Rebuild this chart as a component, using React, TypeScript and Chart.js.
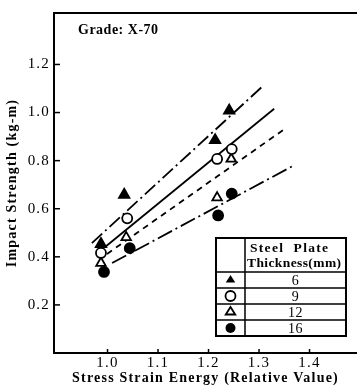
import React, { useEffect, useRef } from "react";
import { Chart, registerables } from "chart.js";

Chart.register(...registerables);

// ---- data ----
const thicknessLabels = ["6", "9", "12", "16"];

const t6X = [0.987, 1.033, 1.213, 1.241];
const t6Y = [0.453, 0.658, 0.885, 1.008];
const t9X = [0.987, 1.039, 1.217, 1.246];
const t9Y = [0.416, 0.56, 0.807, 0.848];
const t12X = [0.987, 1.037, 1.217, 1.245];
const t12Y = [0.374, 0.481, 0.646, 0.807];
const t16X = [0.993, 1.044, 1.219, 1.246];
const t16Y = [0.337, 0.436, 0.572, 0.663];

// fitted lines (start, end)
const fit6X = [0.969, 1.308];
const fit6Y = [0.457, 1.111];
const fit9X = [0.997, 1.33];
const fit9Y = [0.444, 1.016];
const fit12X = [0.999, 1.355];
const fit12Y = [0.412, 0.938];
const fit16X = [1.009, 1.367];
const fit16Y = [0.374, 0.778];

const xTicks = [1.0, 1.1, 1.2, 1.3, 1.4];
const yTicks = [0.2, 0.4, 0.6, 0.8, 1.0, 1.2];

const gradeText = "Grade: X-70";
const xTitle = "Stress Strain Energy (Relative Value)";
const yTitle = "Impact Strength (kg-m)";
const legendHeader = ["Steel  Plate", "Thickness(mm)"];

const FONT = "'Liberation Serif', 'DejaVu Serif', serif";

const zip = (xs: number[], ys: number[]) => xs.map((x, i) => ({ x, y: ys[i] }));

function drawMarker(ctx: CanvasRenderingContext2D, kind: number, cx: number, cy: number, r: number) {
  ctx.save();
  ctx.lineWidth = 1.8;
  ctx.strokeStyle = "#000";
  ctx.beginPath();
  if (kind === 0 || kind === 2) {
    const h = r * 1.5;
    ctx.moveTo(cx, cy - r);
    ctx.lineTo(cx + r * 0.95, cy + h - r);
    ctx.lineTo(cx - r * 0.95, cy + h - r);
    ctx.closePath();
  } else {
    ctx.arc(cx, cy, r, 0, Math.PI * 2);
  }
  if (kind === 0 || kind === 3) {
    ctx.fillStyle = "#000";
    ctx.fill();
  } else {
    ctx.fillStyle = "#fff";
    ctx.fill();
    ctx.stroke();
  }
  ctx.restore();
}

const spacingPlugin = {
  id: "spacing",
  beforeLayout(chart: any) {
    (chart.ctx as any).letterSpacing = "1.2px";
  },
  beforeDraw(chart: any) {
    (chart.ctx as any).letterSpacing = "1.2px";
  },
};

const decorPlugin = {
  id: "decor",
  afterDraw(chart: any) {
    const { ctx, chartArea } = chart;
    const xs = chart.scales.x;
    const ys = chart.scales.y;
    ctx.save();
    ctx.strokeStyle = "#000";
    // top frame line
    ctx.lineWidth = 2;
    ctx.beginPath();
    ctx.moveTo(chartArea.left - 1, chartArea.top);
    ctx.lineTo(chartArea.right, chartArea.top);
    ctx.stroke();
    // inward ticks
    ctx.lineWidth = 1.5;
    yTicks.forEach((v) => {
      const p = ys.getPixelForValue(v);
      ctx.beginPath();
      ctx.moveTo(chartArea.left, p);
      ctx.lineTo(chartArea.left + 6, p);
      ctx.stroke();
    });
    xTicks.forEach((v) => {
      const p = xs.getPixelForValue(v);
      ctx.beginPath();
      ctx.moveTo(p, chartArea.bottom);
      ctx.lineTo(p, chartArea.bottom - 4);
      ctx.stroke();
    });
    // grade label
    ctx.fillStyle = "#000";
    (ctx as any).letterSpacing = "0.5px";
    ctx.font = `bold 14px ${FONT}`;
    ctx.textAlign = "left";
    ctx.textBaseline = "middle";
    ctx.fillText(gradeText, chartArea.left + 24, chartArea.top + 17);

    // legend table
    const L = 216, R = 346, C = 245, T = 238, H = 272, rowH = 16;
    const B = H + rowH * thicknessLabels.length;
    ctx.lineWidth = 2;
    ctx.strokeRect(L, T, R - L, B - T);
    ctx.lineWidth = 1.5;
    ctx.beginPath();
    ctx.moveTo(C, T);
    ctx.lineTo(C, B);
    for (let i = 0; i < thicknessLabels.length; i++) {
      const y = H + rowH * i;
      ctx.moveTo(L, y);
      ctx.lineTo(R, y);
    }
    ctx.stroke();
    ctx.font = `bold 13.5px ${FONT}`;
    ctx.textAlign = "left";
    (ctx as any).letterSpacing = "1.3px";
    ctx.fillText(legendHeader[0], C + 5, T + 11);
    (ctx as any).letterSpacing = "0.4px";
    ctx.fillText(legendHeader[1], C + 2, T + 26);
    (ctx as any).letterSpacing = "0.5px";
    ctx.font = `14px ${FONT}`;
    ctx.textAlign = "center";
    thicknessLabels.forEach((lab, i) => {
      const cy = H + rowH * i + rowH / 2;
      ctx.fillStyle = "#000";
      ctx.fillText(lab, (C + R) / 2, cy + 1);
      drawMarker(ctx, i, (L + C) / 2, cy, 5);
    });
    ctx.restore();
  },
};

export default function App() {
  const ref = useRef<HTMLCanvasElement | null>(null);
  useEffect(() => {
    if (!ref.current) return;
    Chart.defaults.font.family = FONT;
    Chart.defaults.color = "#000";
    const ptBase = { showLine: false, borderColor: "#000", borderWidth: 1.8, pointRadius: 6, pointHoverRadius: 6 };
    const lineBase = { showLine: true, pointRadius: 0, borderColor: "#000", borderWidth: 1.8, fill: false };
    const chart = new Chart(ref.current, {
      type: "scatter",
      data: {
        datasets: [
          { ...ptBase, label: "6", data: zip(t6X, t6Y), pointStyle: "triangle", backgroundColor: "#000" },
          { ...ptBase, label: "9", data: zip(t9X, t9Y), pointStyle: "circle", pointRadius: 5, backgroundColor: "#fff" },
          { ...ptBase, label: "12", data: zip(t12X, t12Y), pointStyle: "triangle", pointRadius: 5.5, backgroundColor: "#fff" },
          { ...ptBase, label: "16", data: zip(t16X, t16Y), pointStyle: "circle", pointRadius: 5, backgroundColor: "#000" },
          { ...lineBase, label: "fit6", data: zip(fit6X, fit6Y), borderDash: [14, 4, 2, 4] },
          { ...lineBase, label: "fit9", data: zip(fit9X, fit9Y) },
          { ...lineBase, label: "fit12", data: zip(fit12X, fit12Y), borderDash: [6, 5] },
          { ...lineBase, label: "fit16", data: zip(fit16X, fit16Y), borderDash: [16, 4, 2, 4] },
        ] as any,
      },
      options: {
        animation: false,
        responsive: false,
        devicePixelRatio: 1,
        layout: { autoPadding: false, padding: { top: 10, left: 0, right: 0, bottom: 0 } },
        plugins: { legend: { display: false }, tooltip: { enabled: false } },
        scales: {
          x: {
            type: "linear",
            position: "bottom",
            min: 0.894,
            max: 1.494,
            afterBuildTicks: (s: any) => {
              s.ticks = xTicks.map((v) => ({ value: v }));
            },
            afterFit: (s: any) => {
              s.height = 32;
            },
            ticks: { font: { size: 15 }, padding: 1, color: "#000", callback: (v: any) => Number(v).toFixed(1) },
            grid: { display: false, drawTicks: false },
            border: { display: true, color: "#000", width: 2 },
            title: { display: true, text: xTitle, color: "#000", font: { size: 14, weight: "bold", lineHeight: 1 }, padding: { top: 0, bottom: 0 } },
          },
          y: {
            type: "linear",
            min: 0,
            max: 1.414,
            afterBuildTicks: (s: any) => {
              s.ticks = yTicks.map((v) => ({ value: v }));
            },
            afterFit: (s: any) => {
              s.width = 54;
            },
            ticks: { font: { size: 15 }, padding: 4, color: "#000", callback: (v: any) => Number(v).toFixed(1) },
            grid: { display: false, drawTicks: false },
            border: { display: true, color: "#000", width: 2 },
            title: { display: true, text: yTitle, color: "#000", font: { size: 14, weight: "bold", lineHeight: 1 }, padding: { top: 5, bottom: 0 } },
          },
        },
      } as any,
      plugins: [spacingPlugin, decorPlugin],
    });
    return () => chart.destroy();
  }, []);
  return (
    <div style={{ position: "fixed", left: 0, top: 0, width: 357, height: 385, background: "#fff" }}>
      <canvas ref={ref} width={357} height={385} style={{ width: 357, height: 385, display: "block" }} />
    </div>
  );
}
